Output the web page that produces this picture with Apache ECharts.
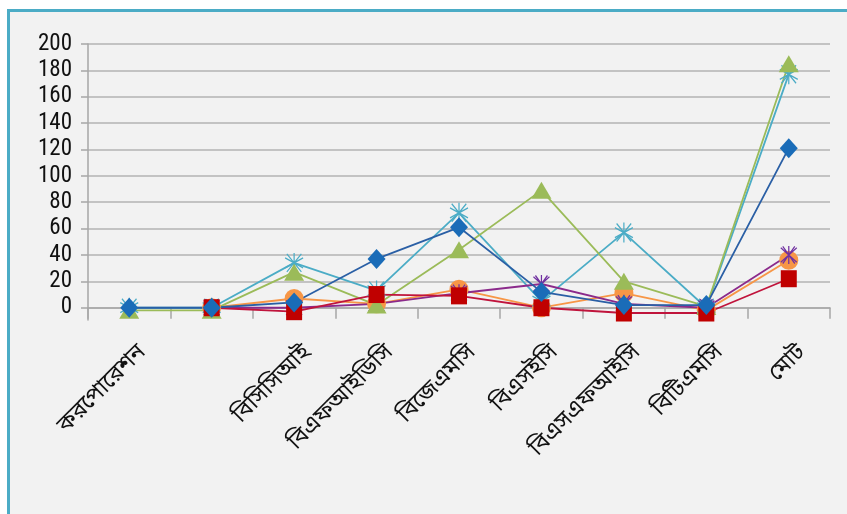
<!DOCTYPE html>
<html>
<head>
<meta charset="utf-8">
<script src="https://cdn.jsdelivr.net/npm/echarts@6/dist/echarts.min.js"></script>
<style>
  html, body { margin: 0; padding: 0; background: #ffffff; }
  #bg { position: absolute; left: 7px; top: 9px; width: 860px; height: 520px;
        background: #f2f2f2; border-left: 3px solid #4bacc6; border-top: 3px solid #4bacc6; }
  #chart { position: absolute; left: 0; top: 0; width: 847px; height: 514px; }
</style>
</head>
<body>
<div id="bg"></div>
<div id="chart"></div>
<script>
// ---- data ----
const categories = ['করপোরেশন', '', 'বিসিসিআই', 'বিএফআইডিসি', 'বিজেএমসি', 'বিএসইসি', 'বিএসএফআইসি', 'বিটিএমসি', 'মোট'];
const yTicks = [0, 20, 40, 60, 80, 100, 120, 140, 160, 180, 200];

const blueDiamond   = [0, 0, 4, 37, 61, 12, 2, 2, 121];
const redSquare     = [null, 0, -3, 10, 9, 0, -4, -4, 22];
const greenTriangle = [-2, -2, 27, 2, 44, 89, 20, 1, 185];
const purpleX       = [null, 0, 0, 3, 11, 18, 3, 0, 40];
const cyanStar      = [0, 0, 34, 13, 72, 5, 57, 0, 177];
const orangeCircle  = [null, 0, 7, 3, 14, 0, 11, -2, 36];

const starPath = 'path://M10,0L10,20M1.34,5L18.66,15M1.34,15L18.66,5M3,1L17,19M17,1L3,19';
const xPath = 'path://M10,0L10,20M2,2L18,18M18,2L2,18M4,0.5L16,19.5M16,0.5L4,19.5';

function mk(name, data, symbol, size, color, lineColor, extra) {
  return Object.assign({
    name: name, type: 'line', data: data, symbol: symbol, symbolSize: size,
    clip: false, connectNulls: false, animation: false,
    lineStyle: { color: lineColor, width: 1.8 },
    itemStyle: { color: color }
  }, extra || {});
}

const chart = echarts.init(document.getElementById('chart'), null, { renderer: 'canvas' });
chart.setOption({
  backgroundColor: 'transparent',
  animation: false,
  grid: { left: 88, right: 17, top: 44, bottom: 194, containLabel: false },
  xAxis: {
    type: 'category', data: categories, boundaryGap: true,
    axisLine: { onZero: true, lineStyle: { color: '#a6a6a6', width: 1.5 } },
    axisTick: { show: true, length: 11, inside: false, lineStyle: { color: '#a6a6a6', width: 1.5 } },
    axisLabel: { rotate: 45, interval: 0, margin: 44, padding: [0, -20, 0, 0], fontSize: 23, color: '#111',
                 fontFamily: '"Noto Sans Bengali", "Lohit Bengali", "Noto Sans", sans-serif' },
    splitLine: { show: false }
  },
  yAxis: {
    type: 'value', min: -9.3, max: 200,
    axisLine: { show: true, lineStyle: { color: '#a6a6a6', width: 1.5 } },
    axisTick: { show: true, length: 7, customValues: yTicks, lineStyle: { color: '#a6a6a6', width: 1.5 } },
    axisLabel: { customValues: yTicks, margin: 16, fontSize: 23, color: '#111',
                 fontFamily: '"Liberation Sans Narrow", "Roboto Condensed", sans-serif' },
    splitLine: { show: true, lineStyle: { color: '#b3b3b3', width: 1.5 } }
  },
  series: [
    mk('orange', orangeCircle, 'circle', 19, '#f79646', '#f79646'),
    mk('cyan', cyanStar, starPath, [18, 20], '#4bacc6', '#4bacc6',
       { itemStyle: { color: 'rgba(0,0,0,0)', borderColor: '#4bacc6', borderWidth: 1.3 } }),
    mk('purple', purpleX, xPath, [16, 18], '#7030a0', '#8b2a8b',
       { itemStyle: { color: 'rgba(0,0,0,0)', borderColor: '#7030a0', borderWidth: 1.3 } }),
    mk('green', greenTriangle, 'triangle', [20, 17], '#9bbb59', '#9bbb59'),
    mk('red', redSquare, 'rect', [16, 17], '#c00000', '#c0143c'),
    mk('blue', blueDiamond, 'diamond', [18, 20], '#1a6cb8', '#2a5fa5')
  ]
});
</script>
</body>
</html>
